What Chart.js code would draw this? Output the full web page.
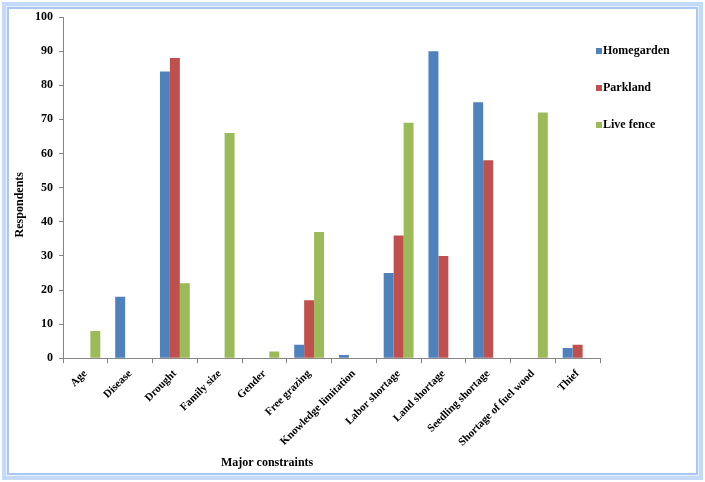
<!DOCTYPE html>
<html>
<head>
<meta charset="utf-8">
<script src="https://cdn.jsdelivr.net/npm/chart.js@4.4.1/dist/chart.umd.min.js"></script>
<style>
    html, body { margin: 0; padding: 0; background: #fff; }
    #wrap { position: relative; width: 705px; height: 482px; }
    #wrap canvas { position: absolute; left: 0; top: 0; }
    #frame {
        position: absolute; left: 2px; top: 2px; width: 693px; height: 470px;
        border: 4px solid #c4daf7;
        box-shadow: inset 0 0 0 1px #e6f0fc, inset 0 0 0 3px #a9c8f2;
        pointer-events: none;
    }
</style>
</head>
<body>
<div id="wrap">
    <canvas id="constraintsChart" width="705" height="482"></canvas>
    <div id="frame"></div>
</div>
<script>
var categories = ['Age', 'Disease', 'Drought', 'Family size', 'Gender', 'Free grazing', 'Knowledge limitation',
    'Labor shortage', 'Land shortage', 'Seedling shortage', 'Shortage of fuel wood', 'Thief'];
var homegarden = [0, 18, 84, 0, 0, 4, 1, 25, 90, 75, 0, 3];
var parkland = [0, 0, 88, 0, 0, 17, 0, 36, 30, 58, 0, 4];
var liveFence = [8, 0, 22, 66, 2, 37, 0, 69, 0, 0, 72, 0];
var yTicks = [0, 10, 20, 30, 40, 50, 60, 70, 80, 90, 100];

var xTitle = 'Major constraints';
var yTitle = 'Respondents';
var fontFamily = '"Liberation Serif", "Times New Roman", serif';

// axis titles and the legend are drawn by hand to match the original placement
var extras = {
    id: 'extras',
    afterDraw: function (chart) {
        var ctx = chart.ctx;
        var area = chart.chartArea;
        ctx.save();
        ctx.fillStyle = '#000';
        ctx.font = 'bold 12px ' + fontFamily;
        ctx.textAlign = 'center';
        ctx.textBaseline = 'middle';
        ctx.fillText(xTitle, area.left + area.width * 0.38, chart.height - 19);

        ctx.save();
        ctx.translate(20, area.top + area.height * 0.55);
        ctx.rotate(-Math.PI / 2);
        ctx.fillText(yTitle, 0, 0);
        ctx.restore();

        ctx.textAlign = 'left';
        chart.data.datasets.forEach(function (ds, i) {
            var y = area.top + 34 + i * 37;
            ctx.fillStyle = ds.backgroundColor;
            ctx.fillRect(area.right - 4, y - 3, 6, 6);
            ctx.fillStyle = '#000';
            ctx.fillText(ds.label, area.right + 3, y);
        });
        ctx.restore();
    }
};

var ctx = document.getElementById('constraintsChart').getContext('2d');
var constraintsChart = new Chart(ctx, {
    type: 'bar',
    data: {
        labels: categories,
        datasets: [
            { label: 'Homegarden', backgroundColor: '#4f81bd', data: homegarden },
            { label: 'Parkland', backgroundColor: '#c0504d', data: parkland },
            { label: 'Live fence', backgroundColor: '#9bbb59', data: liveFence }
        ]
    },
    options: {
        responsive: false,
        animation: false,
        devicePixelRatio: 1,
        layout: { padding: { left: 29, top: 17, right: 105, bottom: 29 } },
        datasets: { bar: { categoryPercentage: 0.667, barPercentage: 1.0, borderWidth: 0 } },
        plugins: { legend: { display: false }, tooltip: { enabled: false } },
        scales: {
            x: {
                grid: { display: true, drawOnChartArea: false, tickLength: 5, color: '#868686', offset: true },
                border: { color: '#868686', width: 1 },
                ticks: {
                    color: '#000', font: { family: fontFamily, size: 11, weight: 'bold' },
                    maxRotation: 45, minRotation: 45, autoSkip: false, padding: 4
                }
            },
            y: {
                min: 0, max: 100,
                afterBuildTicks: function (axis) { axis.ticks = yTicks.map(function (v) { return { value: v }; }); },
                grid: { display: true, drawOnChartArea: false, tickLength: 4, color: '#868686' },
                border: { color: '#868686', width: 1 },
                ticks: { color: '#000', font: { family: fontFamily, size: 12, weight: 'bold' }, padding: 6 }
            }
        }
    },
    plugins: [extras]
});
</script>
</body>
</html>
